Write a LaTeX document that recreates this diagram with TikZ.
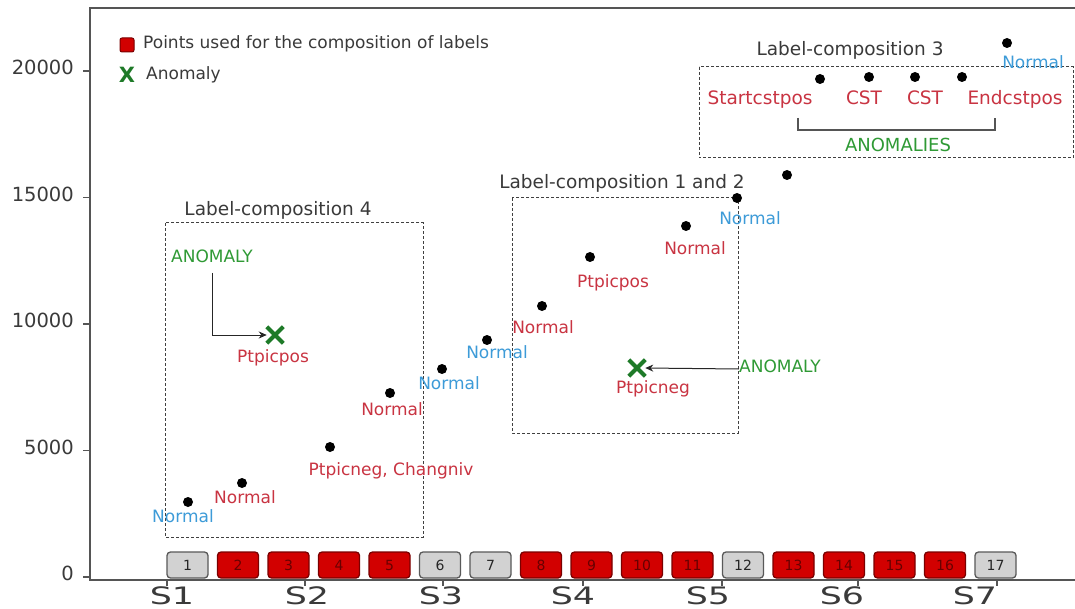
\documentclass[tikz,border=0pt]{standalone}
\usepackage{fontspec}
\setmainfont{DejaVu Sans}
\usetikzlibrary{arrows.meta,shapes.misc}
\definecolor{labred}{HTML}{C93442}
\definecolor{labblue}{HTML}{3D9BD8}
\definecolor{labgreen}{HTML}{2F9A35}
\definecolor{markgreen}{HTML}{1E7A28}
\definecolor{axisgray}{HTML}{555555}
\definecolor{tickgray}{HTML}{3A3A3A}
\definecolor{segred}{HTML}{D20000}
\definecolor{segredline}{HTML}{7A0000}
\definecolor{seggray}{HTML}{D2D2D2}
\newcommand{\fsz}[1]{\fontsize{#1}{#1}\selectfont}

\begin{document}
\begin{tikzpicture}[x=1pt,y=-1pt,
  datapt/.style={circle,fill=black,inner sep=0,minimum size=10pt},
  lbl/.style={inner sep=0,text height=.72em,text depth=0pt,font=\fsz{17}},
  nred/.style={lbl,text=labred},
  nblue/.style={lbl,text=labblue},
  ngreen/.style={lbl,text=labgreen},
  comptitle/.style={lbl,text=tickgray,font=\fsz{18.5}},
  complabel/.style={lbl,text=labred,font=\fsz{18.5}},
  compbox/.style={draw=black!75,dash pattern=on 3pt off 2pt,line width=1pt},
  anomx/.style={cross out,draw=markgreen,line width=4pt,minimum size=12.5pt,inner sep=0},
  seg/.style={rounded corners=3.5pt,line width=1.3pt,minimum width=41pt,minimum height=26pt,inner sep=0,font=\fsz{14}},
  segon/.style={seg,fill=segred,draw=segredline,text=segredline!85!black},
  segoff/.style={seg,fill=seggray,draw=black!65,text=black!85},
  ptr/.style={-{Stealth[length=8pt,width=7pt]},line width=1pt,draw=black!85},
  ticklbl/.style={inner sep=0,text height=.72em,text depth=0pt,text=tickgray,font=\fsz{19.5}},
]
\useasboundingbox (0,0) rectangle (1075,609);
\fill[white] (0,0) rectangle (1075,609);

% axes
\draw[axisgray,line width=1.5pt] (1075,8) -- (90,8) -- (90,580) -- (1075,580);
\foreach \v/\y in {0/577,5000/450.5,10000/324,15000/197.5,20000/71}{
  \draw[axisgray,line width=1.2pt] (83,\y) -- (90,\y);
  \node[ticklbl,anchor=east] at (74,\y) {\v};
}
\foreach \x in {167,305,443,583,722,858,997}{
  \draw[axisgray,line width=1.2pt] (\x,580) -- (\x,586);
}
\foreach \x/\s in {172/S1,307/S2,441/S3,573/S4,708/S5,842/S6,975/S7}{
  \node[inner sep=0,anchor=base,text=tickgray,font=\fsz{24}] at (\x,604) {\scalebox{1.45}[1]{\s}};
}

% segments along the time axis
\foreach \i in {1,...,17}{
  \pgfmathsetmacro{\cx}{187.5+50.5*(\i-1)}
  \ifnum\i=1 \def\st{segoff}\else
  \ifnum\i=6 \def\st{segoff}\else
  \ifnum\i=7 \def\st{segoff}\else
  \ifnum\i=12 \def\st{segoff}\else
  \ifnum\i=17 \def\st{segoff}\else
  \def\st{segon}\fi\fi\fi\fi\fi
  \node[\st] (seg\i) at (\cx,565) {\i};
}

% legend
\node[draw=segredline,fill=segred,rounded corners=2pt,minimum size=14pt,inner sep=0,line width=1pt] (legsq) at (127,45) {};
\node[lbl,anchor=west,text=tickgray] (legsqtxt) at (143,45) {Points used for the composition of labels};
\node[inner sep=0,text=markgreen,font=\fsz{21}\bfseries] (legx) at (127,75) {X};
\node[lbl,anchor=west,text=tickgray] (legxtxt) at (146,76) {Anomaly};

% composition frames
\draw[compbox] (165,223) rectangle (423,537);
\draw[compbox] (512,198) rectangle (738,433);
\draw[compbox] (699,67) rectangle (1073,158);
\node[comptitle] (t4) at (278,212) {Label-composition 4};
\node[comptitle] (t12) at (622,185) {Label-composition 1 and 2};
\node[comptitle] (t3) at (850,52) {Label-composition 3};

% data points
\node[datapt] (p1) at (188,502) {};
\node[datapt] (p2) at (242,483) {};
\node[datapt] (p3) at (330,447) {};
\node[datapt] (p4) at (390,393) {};
\node[datapt] (p5) at (442,369) {};
\node[datapt] (p6) at (487,340) {};
\node[datapt] (p7) at (542,306) {};
\node[datapt] (p8) at (590,257) {};
\node[datapt] (p9) at (686,226) {};
\node[datapt] (p10) at (737,198) {};
\node[datapt] (p11) at (787,175) {};
\node[datapt] (p12) at (820,79) {};
\node[datapt] (p13) at (869,77) {};
\node[datapt] (p14) at (915,77) {};
\node[datapt] (p15) at (962,77) {};
\node[datapt] (p16) at (1007,43) {};

% point labels
\node[nblue] (l1) at (183,519) {Normal};
\node[nred] (l2) at (245,500) {Normal};
\node[nred] (l3) at (391,472) {Ptpicneg, Changniv};
\node[nred] (l4) at (392,412) {Normal};
\node[nblue] (l5) at (449,386) {Normal};
\node[nblue] (l6) at (497,355) {Normal};
\node[nred] (l7) at (543,330) {Normal};
\node[nred] (l8) at (613,284) {Ptpicpos};
\node[nred] (l9) at (695,251) {Normal};
\node[nblue] (l10) at (750,221) {Normal};
\node[nblue] (l16) at (1033,65) {Normal};

% label-composition 3
\node[complabel] (l12) at (760,101) {Startcstpos};
\node[complabel] (l13) at (864,101) {CST};
\node[complabel] (l14) at (925,101) {CST};
\node[complabel] (l15) at (1015,101) {Endcstpos};
\draw[axisgray,line width=1.4pt] (798,118) -- (798,130) -- (995,130) -- (995,118);
\node[ngreen,font=\fsz{18}] (anomalies) at (898,148) {ANOMALIES};

% anomalies
\node[anomx] (x4) at (275,335) {};
\node[nred] (lx4) at (273,359) {Ptpicpos};
\node[ngreen] (anom4) at (212,259) {ANOMALY};
\draw[ptr] ([yshift=-10pt]anom4.south) |- (x4.west);

\node[anomx] (x12) at (637,368) {};
\node[nred] (lx12) at (653,390) {Ptpicneg};
\node[ngreen] (anom12) at (780,369) {ANOMALY};
\draw[ptr] (anom12.west) -- (x12.east);
\end{tikzpicture}
\end{document}
